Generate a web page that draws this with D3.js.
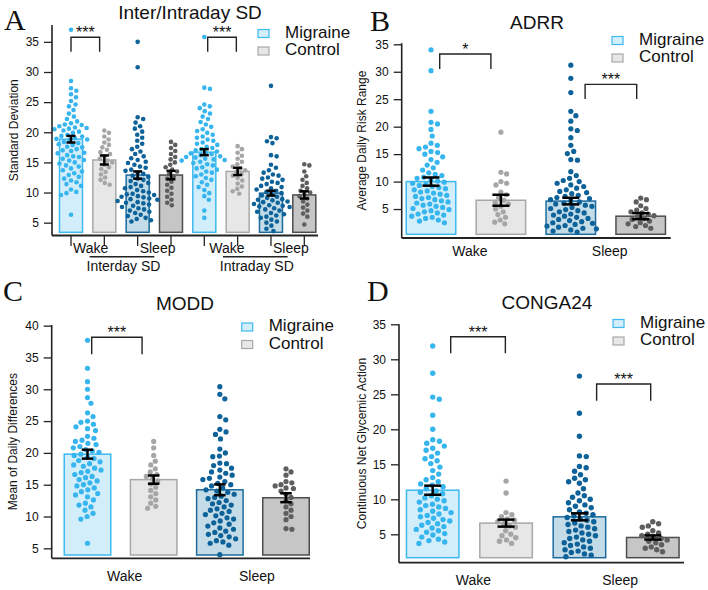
<!DOCTYPE html>
<html>
<head>
<meta charset="utf-8">
<script src="https://cdn.jsdelivr.net/npm/d3@7"></script>
<style>
  body { margin: 0; background: #fff; }
  text { font-family: "Liberation Sans", Arial, sans-serif; fill: #111; }
  .letter { font-family: "Liberation Serif", "Times New Roman", serif; }
</style>
</head>
<body>
<div id="chart"></div>
<script>
// ---- data ----
const groupNames = ["Wake Migraine", "Wake Control", "Sleep Migraine", "Sleep Control"];
const legendLabels = ["Migraine", "Control"];

// A: Inter/Intraday SD
const sdMeans = [18.85, 15.4, 12.9, 12.9, 16.7, 13.5, 9.9, 9.6];
const sdSems = [0.55, 0.75, 0.6, 0.7, 0.5, 0.6, 0.4, 0.6];
const interWakeMig = [37.0, 28.5, 27.3, 26.9, 26.3, 25.8, 25.2, 24.6, 24.3, 23.7, 23.1, 22.6, 22.2, 21.8, 21.5, 21.3, 21.2, 21.0, 20.8, 20.7, 20.6, 20.5, 20.3, 20.1, 19.9, 19.6, 19.4, 19.3, 19.0, 18.9, 18.8, 18.7, 18.4, 18.2, 18.0, 17.9, 17.6, 17.5, 17.2, 17.0, 16.9, 16.6, 16.5, 16.2, 16.0, 15.9, 15.6, 15.4, 15.3, 15.0, 14.8, 14.5, 14.3, 14.0, 13.7, 13.5, 13.2, 12.9, 12.6, 12.3, 12.0, 11.7, 11.4, 11.1, 10.5, 10.1, 9.9, 9.6, 6.3];
const interWakeCon = [20.3, 19.9, 19.3, 18.8, 18.3, 17.9, 17.5, 17.1, 16.7, 16.4, 16.0, 15.6, 15.3, 15.0, 14.6, 14.2, 13.9, 13.4, 13.0, 12.5, 12.1, 11.6, 11.3];
const interSleepMig = [35.0, 30.8, 22.5, 22.2, 21.6, 21.0, 20.6, 20.1, 19.6, 19.1, 18.6, 18.1, 17.6, 17.2, 16.8, 16.4, 16.0, 15.7, 15.4, 15.1, 14.9, 14.6, 14.3, 14.1, 13.8, 13.6, 13.3, 13.1, 12.8, 12.6, 12.3, 12.1, 11.9, 11.6, 11.4, 11.1, 10.9, 10.7, 10.4, 10.2, 10.0, 9.8, 9.7, 9.6, 9.4, 9.3, 9.2, 9.0, 8.9, 8.8, 8.6, 8.4, 8.3, 8.2, 8.0, 7.8, 7.6, 7.4, 7.2, 7.0, 6.8, 6.6, 6.3, 6.1, 5.8, 5.6, 5.4, 5.2];
const interSleepCon = [18.4, 17.9, 17.4, 16.9, 16.4, 15.9, 15.5, 15.0, 14.6, 14.2, 13.8, 13.5, 13.1, 12.7, 12.3, 11.8, 11.3, 10.8, 10.3, 9.8, 9.3, 8.8, 8.3, 7.9];
const intraWakeMig = [35.8, 27.4, 27.2, 24.6, 24.3, 24.0, 23.5, 23.1, 22.6, 22.2, 21.7, 21.3, 20.9, 20.5, 20.2, 19.9, 19.6, 19.3, 19.1, 18.8, 18.6, 18.3, 18.1, 17.9, 17.6, 17.4, 17.2, 17.0, 16.8, 16.6, 16.5, 16.4, 16.2, 16.0, 15.9, 15.8, 15.6, 15.5, 15.4, 15.3, 15.1, 14.9, 14.7, 14.5, 14.2, 14.0, 13.8, 13.5, 13.3, 13.0, 12.7, 12.4, 12.1, 11.7, 11.3, 10.9, 10.4, 9.9, 9.4, 8.8, 7.0, 5.8];
const intraWakeCon = [17.7, 17.2, 16.6, 16.1, 15.6, 15.1, 14.7, 14.3, 14.0, 13.7, 13.4, 13.1, 12.8, 12.4, 12.0, 11.5, 11.0, 10.6, 10.2, 9.8];
const intraSleepMig = [27.7, 19.2, 19.0, 18.5, 18.2, 16.2, 16.0, 14.6, 14.1, 13.7, 13.3, 13.0, 12.8, 12.5, 12.3, 12.1, 11.8, 11.6, 11.4, 11.1, 10.9, 10.7, 10.5, 10.3, 10.1, 9.9, 9.7, 9.5, 9.3, 9.1, 8.9, 8.8, 8.7, 8.5, 8.4, 8.3, 8.1, 7.9, 7.8, 7.7, 7.6, 7.4, 7.2, 7.0, 6.8, 6.6, 6.4, 6.2, 6.0, 5.8, 5.5, 5.2, 5.0, 4.5, 4.0, 3.6];
const intraSleepCon = [14.7, 14.5, 13.5, 12.7, 12.1, 11.6, 11.1, 10.7, 10.3, 10.0, 9.7, 9.4, 9.0, 8.5, 8.0, 7.5, 7.0, 6.5, 6.0, 4.7];

// B: ADRR
const adrrMeans = [10.0, 6.6, 6.45, 3.7];
const adrrSems = [0.75, 1.0, 0.6, 0.55];
const adrrWakeMig = [34.0, 30.2, 22.8, 20.8, 20.5, 19.5, 18.3, 17.0, 16.6, 16.3, 16.0, 15.5, 15.3, 15.0, 14.5, 14.0, 13.5, 13.0, 12.5, 12.1, 11.6, 11.3, 11.1, 10.8, 10.6, 10.3, 10.1, 9.9, 9.7, 9.5, 9.3, 9.1, 8.9, 8.7, 8.5, 8.3, 8.1, 7.9, 7.7, 7.5, 7.3, 7.1, 6.9, 6.7, 6.5, 6.3, 6.1, 5.9, 5.7, 5.5, 5.3, 5.1, 4.9, 4.7, 4.5, 4.3, 4.1, 3.9, 3.7, 3.5, 3.3, 3.0, 2.8, 2.5];
const adrrWakeCon = [19.0, 11.7, 11.4, 10.0, 9.7, 9.4, 8.1, 7.6, 7.1, 6.6, 6.2, 5.9, 5.5, 5.0, 4.5, 4.0, 3.5, 3.0, 2.6, 2.3];
const adrrSleepMig = [31.2, 28.8, 26.2, 22.8, 22.0, 21.0, 19.6, 19.3, 18.0, 16.6, 15.5, 15.1, 14.0, 13.9, 11.8, 11.1, 10.6, 10.2, 10.0, 9.7, 9.4, 9.1, 8.8, 8.5, 8.2, 8.0, 7.8, 7.5, 7.3, 7.1, 6.9, 6.7, 6.5, 6.3, 6.1, 5.9, 5.7, 5.5, 5.3, 5.1, 4.9, 4.7, 4.5, 4.3, 4.1, 3.9, 3.7, 3.5, 3.3, 3.1, 2.9, 2.7, 2.5, 2.4, 2.2, 2.0, 1.9, 1.7, 1.5, 1.4, 1.2, 1.0, 0.8];
const adrrSleepCon = [7.0, 6.7, 6.3, 5.6, 5.1, 4.8, 4.5, 4.3, 4.1, 3.8, 3.6, 3.3, 3.1, 2.8, 2.5, 2.3, 2.0, 1.8, 1.5];

// C: MODD
const moddMeans = [19.8, 15.8, 14.2, 12.95];
const moddSems = [0.7, 0.65, 0.85, 0.7];
const moddWakeMig = [37.7, 33.3, 31.2, 30.0, 28.7, 27.8, 26.3, 25.7, 25.0, 24.8, 24.5, 24.1, 23.8, 23.5, 22.6, 22.3, 22.0, 21.8, 21.5, 21.3, 21.0, 20.8, 20.5, 20.3, 20.1, 19.8, 19.6, 19.3, 19.1, 18.8, 18.6, 18.3, 18.1, 17.9, 17.6, 17.3, 17.1, 16.9, 16.6, 16.3, 16.1, 15.8, 15.6, 15.3, 15.0, 14.8, 14.5, 14.2, 13.9, 13.6, 13.4, 13.1, 12.6, 12.1, 11.8, 11.5, 11.0, 10.5, 10.0, 9.6, 5.8];
const moddWakeCon = [21.8, 20.8, 19.6, 18.7, 18.1, 17.5, 17.0, 16.6, 16.3, 16.0, 15.6, 15.1, 14.6, 14.1, 13.6, 13.1, 12.6, 12.1, 11.6, 11.3];
const moddSleepMig = [30.4, 29.2, 28.5, 25.7, 25.2, 23.7, 23.3, 22.9, 22.2, 20.6, 20.0, 19.5, 19.4, 18.4, 18.3, 18.0, 17.6, 17.3, 17.0, 16.8, 16.5, 16.2, 16.0, 15.8, 15.5, 15.2, 15.0, 14.8, 14.5, 14.2, 14.0, 13.8, 13.5, 13.2, 13.0, 12.8, 12.5, 12.2, 12.0, 11.8, 11.5, 11.2, 11.0, 10.8, 10.5, 10.3, 10.1, 9.8, 9.6, 9.3, 9.0, 8.8, 8.5, 8.2, 8.0, 7.7, 7.5, 7.2, 7.0, 6.8, 6.5, 6.2, 6.0, 5.8, 5.5, 4.0];
const moddSleepCon = [17.5, 17.0, 16.5, 15.5, 15.3, 15.0, 14.8, 14.5, 14.4, 14.0, 13.5, 13.0, 12.5, 12.0, 11.5, 11.0, 10.5, 10.0, 9.5, 8.1, 8.0];

// D: CONGA24
const congaMeans = [11.3, 6.6, 7.5, 4.55];
const congaSems = [0.65, 0.5, 0.5, 0.3];
const congaWakeMig = [31.9, 28.0, 24.6, 24.3, 22.0, 20.0, 18.5, 18.3, 18.0, 17.6, 17.3, 17.0, 16.6, 16.1, 15.8, 15.5, 15.1, 14.6, 14.1, 13.6, 13.1, 12.8, 12.5, 12.2, 12.0, 11.8, 11.5, 11.2, 11.0, 10.8, 10.5, 10.2, 10.0, 9.8, 9.6, 9.3, 9.1, 8.9, 8.7, 8.5, 8.3, 8.1, 7.9, 7.7, 7.5, 7.3, 7.1, 6.9, 6.7, 6.5, 6.3, 6.1, 5.9, 5.7, 5.5, 5.3, 5.1, 4.9, 4.6, 4.3, 4.1, 3.9, 3.7];
const congaWakeCon = [12.6, 10.9, 8.1, 7.8, 7.5, 7.2, 7.0, 6.8, 6.5, 6.2, 6.0, 5.5, 5.0, 4.8, 4.5, 4.2, 4.0, 3.7];
const congaSleepMig = [27.6, 22.3, 19.0, 16.2, 16.1, 14.7, 14.5, 14.0, 13.5, 13.0, 12.8, 12.5, 12.3, 11.5, 10.9, 10.5, 10.3, 10.0, 9.8, 9.5, 9.2, 9.0, 8.8, 8.5, 8.2, 8.0, 7.8, 7.6, 7.4, 7.2, 7.0, 6.8, 6.6, 6.4, 6.2, 6.0, 5.8, 5.6, 5.4, 5.2, 5.0, 4.8, 4.6, 4.4, 4.2, 4.0, 3.8, 3.6, 3.4, 3.2, 3.0, 2.8, 2.6, 2.4, 2.2, 2.0, 1.8];
const congaSleepCon = [6.8, 6.5, 6.2, 6.0, 5.5, 5.2, 5.0, 4.8, 4.6, 4.4, 4.2, 4.0, 3.8, 3.5, 3.2, 3.0, 2.8, 2.5];

const sdTicks = [5, 10, 15, 20, 25, 30, 35];
const moddTicks = [5, 10, 15, 20, 25, 30, 35, 40];

// ---- styles ----
const fills = ["#d3eefb", "#e7e7e7", "#c3dce8", "#c6c6c6"];
const strokes = ["#3dbaf0", "#a8a8a8", "#1d6b9d", "#4d4d4d"];
const dotColors = ["#36b5ee", "#a6a6a6", "#0c6299", "#5e5e5e"];

const svg = d3.select("#chart").append("svg")
  .attr("width", 708)
  .attr("height", 590)
  .style("background", "#fff");

// simple beeswarm: offsets so dots don't overlap
function swarm(ys, r, pad) {
  const d = 2 * r + pad;
  const pts = ys.map(y => ({ y: y, x: 0 })).sort((a, b) => a.y - b.y);
  const placed = [];
  pts.forEach(p => {
    const near = placed.filter(q => Math.abs(q.y - p.y) < d);
    const cands = [0];
    near.forEach(q => {
      const dx = Math.sqrt(d * d - (q.y - p.y) * (q.y - p.y));
      cands.push(q.x + dx, q.x - dx);
    });
    cands.sort((a, b) => Math.abs(a) - Math.abs(b));
    for (const c of cands) {
      if (near.every(q => (q.x - c) ** 2 + (q.y - p.y) ** 2 >= d * d - 0.01)) { p.x = c; break; }
    }
    placed.push(p);
  });
  return pts;
}

function drawPanel(cfg) {
  const g = svg.append("g");
  const n = cfg.points.length;
  const x = d3.scalePoint().domain(d3.range(n)).range(cfg.centers);
  const y = d3.scaleLinear().domain(cfg.yDomain).range(cfg.yRange);
  const base = cfg.yDomain[0];
  const colorIdx = i => i % 4;

  // bars
  g.selectAll(".bar").data(cfg.means).enter().append("rect")
    .attr("x", (d, i) => x(i) - cfg.bw / 2)
    .attr("width", cfg.bw)
    .attr("y", d => y(d))
    .attr("height", d => y(base) - y(d))
    .attr("fill", (d, i) => fills[colorIdx(i)])
    .attr("stroke", (d, i) => strokes[colorIdx(i)])
    .attr("stroke-width", 1.5);

  // dots
  cfg.points.forEach((vals, i) => {
    const pad = colorIdx(i) % 2 === 0 ? cfg.pad : cfg.pad * 0.5;
    const pts = swarm(vals.map(v => y(v)), cfg.r, pad);
    g.selectAll(null).data(pts).enter().append("circle")
      .attr("cx", p => x(i) + p.x)
      .attr("cy", p => p.y)
      .attr("r", cfg.r)
      .attr("fill", dotColors[colorIdx(i)]);
  });

  // error bars
  cfg.means.forEach((m, i) => {
    const cx = x(i);
    const lo = y(m - cfg.sems[i]), hi = y(m + cfg.sems[i]);
    const eb = g.append("g").attr("stroke", "#000").attr("stroke-width", 2.5);
    eb.append("line").attr("x1", cx).attr("x2", cx).attr("y1", lo).attr("y2", hi);
    eb.append("line").attr("x1", cx - cfg.cap / 2).attr("x2", cx + cfg.cap / 2).attr("y1", lo).attr("y2", lo);
    eb.append("line").attr("x1", cx - cfg.cap / 2).attr("x2", cx + cfg.cap / 2).attr("y1", hi).attr("y2", hi);
  });

  // y axis
  const yAxis = d3.axisLeft(y).tickValues(cfg.ticks).tickSize(8).tickPadding(5).tickSizeOuter(0);
  const ya = g.append("g").attr("transform", `translate(${cfg.xStart},0)`).call(yAxis);
  ya.select(".domain").remove();
  ya.selectAll(".tick line").attr("stroke", "#222").attr("stroke-width", 1.3);
  ya.selectAll(".tick text").style("font-size", "12px").style("font-family", "Liberation Sans, Arial, sans-serif").attr("fill", "#111");
  g.append("line").attr("x1", cfg.xStart).attr("x2", cfg.xStart)
    .attr("y1", cfg.yRange[1]).attr("y2", cfg.axisY)
    .attr("stroke", "#222").attr("stroke-width", 1.6);
  g.append("line").attr("x1", cfg.xStart).attr("x2", cfg.xEnd)
    .attr("y1", cfg.axisY).attr("y2", cfg.axisY)
    .attr("stroke", "#222").attr("stroke-width", 1.8);

  // y label
  g.append("text")
    .attr("transform", `translate(${cfg.ylabelX},${(cfg.yRange[1] + cfg.axisY) / 2}) rotate(-90)`)
    .attr("text-anchor", "middle")
    .style("font-size", "12px")
    .text(cfg.ylabel);

  // title + panel letter
  g.append("text").attr("x", cfg.titleX).attr("y", cfg.titleY)
    .attr("text-anchor", "middle").style("font-size", "19px").text(cfg.title);
  g.append("text").attr("class", "letter").attr("x", cfg.letterX).attr("y", cfg.letterY)
    .style("font-size", "30px").text(cfg.letter);

  // legend
  legendLabels.forEach((lab, i) => {
    const ly = cfg.legend[1] + i * 17.5;
    g.append("rect").attr("x", cfg.legend[0]).attr("y", ly - 7.5)
      .attr("width", 11).attr("height", 8)
      .attr("fill", fills[i]).attr("stroke", strokes[i]).attr("stroke-width", 1.2);
    g.append("text").attr("x", cfg.legend[0] + 27).attr("y", ly + 0.5)
      .style("font-size", "17px").text(lab);
  });

  // significance brackets
  cfg.sig.forEach(s => {
    const x1 = x(s.a) + s.da, x2 = x(s.b) + s.db;
    const top = y(s.v);
    g.append("path")
      .attr("d", `M${x1},${top + s.drop}V${top}H${x2}V${top + s.drop}`)
      .attr("fill", "none").attr("stroke", "#222").attr("stroke-width", 1.4);
    g.append("text").attr("x", (x1 + x2) / 2).attr("y", top + 1)
      .attr("text-anchor", "middle").style("font-size", "16px").text(s.label);
  });

  return { g: g, x: x };
}

// ---- panel A ----
const pa = drawPanel({
  points: [interWakeMig, interWakeCon, interSleepMig, interSleepCon, intraWakeMig, intraWakeCon, intraSleepMig, intraSleepCon],
  means: sdMeans, sems: sdSems, ticks: sdTicks,
  centers: [71, 304.3], bw: 23, r: 2.3, pad: 1.2, cap: 9,
  yDomain: [3.4, 37.8], yRange: [232.3, 25], axisY: 235.5, xStart: 52, xEnd: 318,
  ylabel: "Standard Deviation", ylabelX: 17.5,
  title: "Inter/Intraday SD", titleX: 190, titleY: 18.5,
  letter: "A", letterX: 4, letterY: 30,
  legend: [258, 37],
  sig: [{ a: 0, b: 1, v: 35.76, drop: 14.4, da: 0, db: -4.7, label: "***" },
        { a: 4, b: 5, v: 35.76, drop: 14.4, da: 3.4, db: -1.3, label: "***" }]
});
// x ticks and grouped labels under panel A
const subLabels = ["Wake", "Sleep"];
const bigLabels = ["Interday SD", "Intraday SD"];
d3.range(8).forEach(i => {
  pa.g.append("line").attr("x1", pa.x(i)).attr("x2", pa.x(i))
    .attr("y1", 235.5).attr("y2", 246).attr("stroke", "#222").attr("stroke-width", 1.3);
});
bigLabels.forEach((lab, k) => {
  const b0 = 4 * k;
  subLabels.forEach((s, j) => {
    pa.g.append("text").attr("x", pa.x(b0 + 2 * j) + 2 + 3 * (1 - j) * k).attr("y", 253)
      .style("font-size", "14px").text(s);
  });
  const m1 = (pa.x(b0) + pa.x(b0 + 1)) / 2, m2 = (pa.x(b0 + 2) + pa.x(b0 + 3)) / 2;
  pa.g.append("line").attr("x1", m1 + 2).attr("x2", m2).attr("y1", 256.7).attr("y2", 256.7)
    .attr("stroke", "#222").attr("stroke-width", 1.4);
  pa.g.append("text").attr("x", (pa.x(b0) + pa.x(b0 + 3)) / 2 + 2.5).attr("y", 271)
    .attr("text-anchor", "middle").style("font-size", "14px").text(lab);
});

// helper for Wake / Sleep labels in B, C, D
function wakeSleep(p, yb) {
  subLabels.forEach((s, j) => {
    p.g.append("text").attr("x", (p.x(2 * j) + p.x(2 * j + 1)) / 2 + 4).attr("y", yb)
      .attr("text-anchor", "middle").style("font-size", "14px").text(s);
  });
}

// ---- panel B ----
const pb = drawPanel({
  points: [adrrWakeMig, adrrWakeCon, adrrSleepMig, adrrSleepCon],
  means: adrrMeans, sems: adrrSems, ticks: sdTicks,
  centers: [431, 640.7], bw: 49.5, r: 2.6, pad: 1.5, cap: 17,
  yDomain: [0.4, 35.2], yRange: [234.3, 43.2], axisY: 238, xStart: 401.7, xEnd: 670.7,
  ylabel: "Average Daily Risk Range", ylabelX: 366,
  title: "ADRR", titleX: 537, titleY: 29,
  letter: "B", letterX: 370, letterY: 30.5,
  legend: [612, 44],
  sig: [{ a: 0, b: 1, v: 33.23, drop: 15, da: 8.7, db: -10, label: "*" },
        { a: 2, b: 3, v: 27.7, drop: 14.7, da: 14.3, db: -4, label: "***" }]
});
wakeSleep(pb, 256);

// ---- panel C ----
const pc = drawPanel({
  points: [moddWakeMig, moddWakeCon, moddSleepMig, moddSleepCon],
  means: moddMeans, sems: moddSems, ticks: moddTicks,
  centers: [87.5, 286], bw: 46.5, r: 2.6, pad: 1.5, cap: 11.5,
  yDomain: [3.95, 40.1], yRange: [555, 325], axisY: 558.3, xStart: 51.7, xEnd: 310,
  ylabel: "Mean of Daily Differences", ylabelX: 17,
  title: "MODD", titleX: 185, titleY: 310,
  letter: "C", letterX: 3, letterY: 301,
  legend: [241.7, 330.5],
  sig: [{ a: 0, b: 1, v: 38.17, drop: 17, da: 4.2, db: -11.6, label: "***" }]
});
wakeSleep(pc, 580.5);

// ---- panel D ----
const pd = drawPanel({
  points: [congaWakeMig, congaWakeCon, congaSleepMig, congaSleepCon],
  means: congaMeans, sems: congaSems, ticks: sdTicks,
  centers: [432.7, 652.8], bw: 52.5, r: 2.7, pad: 1.5, cap: 17,
  yDomain: [1.66, 35], yRange: [557.7, 324.3], axisY: 562.7, xStart: 399, xEnd: 684,
  ylabel: "Continuous Net Glycemic Action", ylabelX: 366,
  title: "CONGA24", titleX: 547, titleY: 308.5,
  letter: "D", letterX: 367, letterY: 301,
  legend: [613, 327],
  sig: [{ a: 0, b: 1, v: 33.23, drop: 16.6, da: 18, db: -0.7, label: "***" },
        { a: 2, b: 3, v: 26.47, drop: 16.7, da: 17.2, db: -2.1, label: "***" }]
});
wakeSleep(pd, 585);
</script>
</body>
</html>
